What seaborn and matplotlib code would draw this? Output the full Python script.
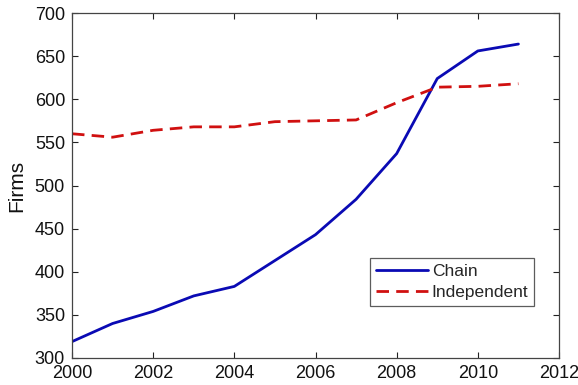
import numpy as np
import pandas as pd
import matplotlib
matplotlib.use("Agg")
import matplotlib.pyplot as plt
import seaborn as sns

years = [2000, 2001, 2002, 2003, 2004, 2005, 2006, 2007, 2008, 2009, 2010, 2011]
chain = [319, 340, 354, 372, 383, 413, 443, 484, 537, 624, 656, 664]
independent = [560, 556, 564, 568, 568, 574, 575, 576, 596, 614, 615, 618]
series_names = ["Chain", "Independent"]

df = pd.concat([
    pd.DataFrame({"Year": years, "Firms": chain, "Type": series_names[0]}),
    pd.DataFrame({"Year": years, "Firms": independent, "Type": series_names[1]}),
])

sns.set_theme(style="white")
plt.rcParams["font.family"] = ["Liberation Sans", "DejaVu Sans"]

fig = plt.figure(figsize=(5.78, 3.85), dpi=100)
ax = fig.add_axes([72 / 578, 27 / 385, 487 / 578, 345 / 385])

palette = {"Chain": "#0a0ab4", "Independent": "#d01010"}
sns.lineplot(data=df, x="Year", y="Firms", hue="Type", style="Type",
             palette=palette, dashes={"Chain": "", "Independent": (4.5, 2.6)},
             linewidth=2.0, ax=ax, legend=True)

ax.set_xlim(2000, 2012)
ax.set_ylim(300, 700)
ax.set_xticks(np.arange(2000, 2013, 2))
ax.set_yticks(np.arange(300, 701, 50))
ax.set_xlabel("")
ax.set_ylabel("Firms", fontsize=15, color="#111111", labelpad=6)
ax.tick_params(direction="in", length=4, width=0.8, top=True, right=True,
               labelsize=13, colors="#222222", bottom=True, left=True)
ax.tick_params(axis="x", pad=5)
ax.tick_params(axis="y", pad=5)
ax.tick_params(axis="both", labelcolor="#111111")
for s in ax.spines.values():
    s.set_color("#444444")
    s.set_linewidth(0.9)

leg = ax.legend(loc="lower left", bbox_to_anchor=(0.612, 0.15), fontsize=12.5,
                frameon=True, fancybox=False, edgecolor="#333333",
                handlelength=3.0, handletextpad=0.2, borderpad=0.35,
                labelspacing=0.35, borderaxespad=0)
leg.get_frame().set_linewidth(0.9)

fig.savefig("out.png", dpi=100)
